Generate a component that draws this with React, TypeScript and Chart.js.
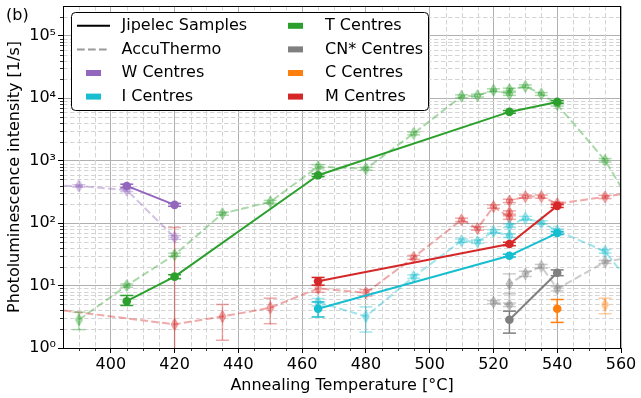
import React, { useEffect, useRef } from 'react';
import { Chart, registerables } from 'chart.js';

Chart.register(...registerables);

const FONT_FAMILY = "'DejaVu Sans', 'Liberation Sans', sans-serif";
const FONT_SIZE = 16;

const xMin = 385;
const xMax = 560;
const yMin = 1;
const yMax = 3e5;
const xTicks = [400, 420, 440, 460, 480, 500, 520, 540, 560];
const xTickLabels = ['400', '420', '440', '460', '480', '500', '520', '540', '560'];
const yTicks = [1, 10, 100, 1000, 10000, 100000];
const yTickLabels = ['10⁰', '10¹', '10²', '10³', '10⁴', '10⁵'];

// ---- W Centres ----
const wJipTemps = [405, 420];
const wJipVals = [394, 196];
const wJipLo = [370, 186];
const wJipHi = [420, 207];
const wAccTemps = [375, 390, 405, 420];
const wAccVals = [398, 394, 337, 59];
const wAccLo = [380, 376, 320, 55];
const wAccHi = [416, 412, 355, 63];

// ---- T Centres ----
const tJipTemps = [405, 420, 465, 525, 540];
const tJipVals = [5.62, 13.9, 584, 6040, 8730];
const tJipLo = [4.8, 12.9, 555, 5750, 8300];
const tJipHi = [6.93, 14.9, 615, 6350, 9200];
const tAccTemps = [390, 405, 420, 435, 450, 465, 480, 495, 510, 515, 520, 525, 525, 530, 535, 540, 555, 570];
const tAccVals = [2.84, 10.0, 31.2, 142, 219, 801, 744, 2733, 10760, 11030, 13400, 11700, 13750, 15500, 11700, 7930, 1013, 53.5];
const tAccLo = [1.97, 9.4, 29.5, 134, 207, 740, 705, 2590, 10200, 10450, 12700, 11100, 13000, 14700, 11100, 7500, 950, 53.5];
const tAccHi = [3.75, 10.6, 33, 150, 231, 865, 785, 2880, 11350, 11650, 14150, 12350, 14500, 16350, 12350, 8400, 1080, 53.5];

// ---- I Centres ----
const iJipTemps = [465, 525, 540];
const iJipVals = [4.25, 30.1, 69.3];
const iJipLo = [3.14, 28.6, 65.5];
const iJipHi = [5.47, 31.8, 73.5];
const iAccTemps = [465, 480, 495, 510, 515, 520, 525, 525, 530, 535, 540, 555, 570];
const iAccVals = [5.42, 3.2, 13.9, 52.3, 50.4, 73.6, 62.8, 90.8, 120, 102, 75.5, 35.3, 3.77];
const iAccLo = [4.7, 1.8, 13.0, 49, 47.3, 69, 59, 85, 112, 96, 71, 33, 3.77];
const iAccHi = [6.2, 4.55, 14.9, 55.8, 53.7, 78.5, 67, 97, 128, 109, 80.5, 37.7, 3.77];

// ---- CN* Centres ----
const cnJipTemps = [525, 540];
const cnJipVals = [2.84, 16.0];
const cnJipLo = [1.73, 14.4];
const cnJipHi = [3.89, 17.8];
const cnAccTemps = [520, 525, 525, 530, 535, 540, 555, 570];
const cnAccVals = [5.42, 4.92, 10.6, 15.4, 20.3, 8.87, 23.9, 33.3];
const cnAccLo = [5.1, 4.6, 7.38, 14.0, 19.0, 8.2, 22.6, 33.3];
const cnAccHi = [5.75, 5.25, 15.4, 17.0, 21.8, 9.6, 25.3, 33.3];

// ---- C Centres ----
const cJipTemps = [540];
const cJipVals = [4.25];
const cJipLo = [2.57];
const cJipHi = [5.98];
const cAccTemps = [555];
const cAccVals = [4.92];
const cAccLo = [3.54];
const cAccHi = [6.28];

// ---- M Centres ----
const mJipTemps = [465, 525, 540];
const mJipVals = [11.7, 46.3, 189];
const mJipLo = [10.1, 43.5, 178];
const mJipHi = [13.5, 49.3, 201];
const mAccTemps = [375, 420, 435, 450, 465, 480, 495, 510, 515, 520, 525, 525, 525, 530, 535, 540, 555, 570];
const mAccVals = [4.63, 2.39, 3.2, 4.41, 9.0, 7.65, 28.3, 113, 82, 184, 123, 148, 227, 266, 266, 205, 263, 354];
const mAccLo = [4.63, 0.5, 1.33, 2.45, 7.8, 6.8, 26.3, 106, 77, 173, 115, 139, 213, 250, 250, 193, 247, 354];
const mAccHi = [4.63, 85, 4.98, 6.28, 10.2, 8.6, 30.4, 120, 87, 196, 131, 157, 241, 282, 282, 217, 279, 354];

const COLORS = {
  W: '#9467bd',
  I: '#17becf',
  T: '#2ca02c',
  CN: '#7f7f7f',
  C: '#ff7f0e',
  M: '#d62728',
};
const ACC_ALPHA = 0.4;

const legendCol1 = ['Jipelec Samples', 'AccuThermo', 'W Centres', 'I Centres'];
const legendCol2 = ['T Centres', 'CN* Centres', 'C Centres', 'M Centres'];

type Series = {
  temps: number[];
  vals: number[];
  lo: number[];
  hi: number[];
  color: string;
  accu: boolean;
};

function rgba(hex: string, a: number) {
  const n = parseInt(hex.slice(1), 16);
  return `rgba(${(n >> 16) & 255},${(n >> 8) & 255},${n & 255},${a})`;
}

function makeDiamond(color: string) {
  const w = 9;
  const h = 14;
  const c = document.createElement('canvas');
  c.width = w;
  c.height = h;
  const g = c.getContext('2d')!;
  g.fillStyle = color;
  g.strokeStyle = color;
  g.lineWidth = 1;
  g.beginPath();
  g.moveTo(w / 2, 1);
  g.lineTo(w - 1, h / 2);
  g.lineTo(w / 2, h - 1);
  g.lineTo(1, h / 2);
  g.closePath();
  g.fill();
  g.stroke();
  return c;
}

export default function App() {
  const ref = useRef<HTMLCanvasElement>(null);

  useEffect(() => {
    const canvas = ref.current!;
    const series: Series[] = [
      { temps: tJipTemps, vals: tJipVals, lo: tJipLo, hi: tJipHi, color: COLORS.T, accu: false },
      { temps: mJipTemps, vals: mJipVals, lo: mJipLo, hi: mJipHi, color: COLORS.M, accu: false },
      { temps: iJipTemps, vals: iJipVals, lo: iJipLo, hi: iJipHi, color: COLORS.I, accu: false },
      { temps: cnJipTemps, vals: cnJipVals, lo: cnJipLo, hi: cnJipHi, color: COLORS.CN, accu: false },
      { temps: cJipTemps, vals: cJipVals, lo: cJipLo, hi: cJipHi, color: COLORS.C, accu: false },
      { temps: wJipTemps, vals: wJipVals, lo: wJipLo, hi: wJipHi, color: COLORS.W, accu: false },
      { temps: wAccTemps, vals: wAccVals, lo: wAccLo, hi: wAccHi, color: COLORS.W, accu: true },
      { temps: tAccTemps, vals: tAccVals, lo: tAccLo, hi: tAccHi, color: COLORS.T, accu: true },
      { temps: iAccTemps, vals: iAccVals, lo: iAccLo, hi: iAccHi, color: COLORS.I, accu: true },
      { temps: cnAccTemps, vals: cnAccVals, lo: cnAccLo, hi: cnAccHi, color: COLORS.CN, accu: true },
      { temps: cAccTemps, vals: cAccVals, lo: cAccLo, hi: cAccHi, color: COLORS.C, accu: true },
      { temps: mAccTemps, vals: mAccVals, lo: mAccLo, hi: mAccHi, color: COLORS.M, accu: true },
    ];

    const datasets = series.map((s) => {
      const col = s.accu ? rgba(s.color, ACC_ALPHA) : s.color;
      return {
        data: s.temps.map((t, i) => ({ x: t, y: s.vals[i] })),
        borderColor: col,
        backgroundColor: col,
        borderWidth: 2,
        borderDash: s.accu ? [7.7, 3.3] : [],
        borderJoinStyle: 'round' as const,
        borderCapStyle: 'butt' as const,
        pointStyle: s.accu ? makeDiamond(col) : 'circle',
        pointRadius: s.accu ? 6 : 4.3,
        pointHoverRadius: s.accu ? 6 : 4.3,
        pointBorderWidth: 0,
        pointBackgroundColor: col,
        pointBorderColor: col,
        showLine: s.temps.length > 1,
        tension: 0,
      };
    });

    const xMinor: number[] = [];
    for (let v = xMin + 5; v < xMax; v += 5) if (v % 20 !== 0) xMinor.push(v);
    const yMinor: number[] = [];
    for (let d = 1; d < yMax; d *= 10) {
      for (let m = 2; m <= 9; m++) if (d * m < yMax) yMinor.push(d * m);
    }

    const font = { family: FONT_FAMILY, size: FONT_SIZE };

    const mplPlugin = {
      id: 'mpl',
      beforeDatasetsDraw(chart: any) {
        const { ctx, chartArea: a, scales } = chart;
        const x = scales.x;
        const y = scales.y;
        ctx.save();
        ctx.strokeStyle = '#d4d4d4';
        ctx.lineWidth = 1;
        ctx.setLineDash([4.5, 2.5]);
        ctx.beginPath();
        for (const v of xMinor) {
          const px = Math.round(x.getPixelForValue(v)) + 0.5;
          ctx.moveTo(px, a.top);
          ctx.lineTo(px, a.bottom);
        }
        for (const v of yMinor) {
          const py = Math.round(y.getPixelForValue(v)) + 0.5;
          ctx.moveTo(a.left, py);
          ctx.lineTo(a.right, py);
        }
        ctx.stroke();
        ctx.restore();
      },
      beforeDatasetDraw(chart: any, args: any) {
        const s = series[args.index];
        if (!s) return;
        const { ctx, chartArea: a, scales } = chart;
        const x = scales.x;
        const y = scales.y;
        const col = s.accu ? rgba(s.color, ACC_ALPHA) : s.color;
        ctx.save();
        ctx.beginPath();
        ctx.rect(a.left, a.top, a.right - a.left, a.bottom - a.top);
        ctx.clip();
        ctx.strokeStyle = col;
        ctx.lineWidth = 1.5;
        ctx.setLineDash([]);
        const cap = 6.5;
        for (let i = 0; i < s.temps.length; i++) {
          const lo = s.lo[i];
          const hi = s.hi[i];
          if (lo === hi) continue;
          const px = x.getPixelForValue(s.temps[i]);
          const pl = y.getPixelForValue(lo);
          const ph = y.getPixelForValue(hi);
          ctx.beginPath();
          ctx.moveTo(px, pl);
          ctx.lineTo(px, ph);
          ctx.stroke();
          ctx.beginPath();
          ctx.moveTo(px - cap, pl);
          ctx.lineTo(px + cap, pl);
          ctx.stroke();
          ctx.beginPath();
          ctx.moveTo(px - cap, ph);
          ctx.lineTo(px + cap, ph);
          ctx.stroke();
        }
        ctx.restore();
      },
      afterDatasetsDraw(chart: any) {
        const { ctx, chartArea: a, scales } = chart;
        const x = scales.x;
        const y = scales.y;
        ctx.save();
        ctx.strokeStyle = '#000';
        ctx.lineWidth = 0.8;
        ctx.beginPath();
        for (const v of xMinor) {
          const px = Math.round(x.getPixelForValue(v)) + 0.5;
          ctx.moveTo(px, a.bottom);
          ctx.lineTo(px, a.bottom + 3);
        }
        for (const v of yMinor) {
          const py = Math.round(y.getPixelForValue(v)) + 0.5;
          ctx.moveTo(a.left, py);
          ctx.lineTo(a.left - 3, py);
        }
        ctx.stroke();
        ctx.lineWidth = 1;
        const l = Math.round(a.left) + 0.5;
        const t = Math.round(a.top) + 0.5;
        const r = Math.round(a.right) - 0.5;
        const b = Math.round(a.bottom) + 0.5;
        ctx.strokeRect(l, t, r - l, b - t);
        ctx.restore();
      },
      afterDraw(chart: any) {
        const ctx = chart.ctx as CanvasRenderingContext2D;
        ctx.save();
        ctx.fillStyle = '#000';
        ctx.textBaseline = 'middle';
        ctx.textAlign = 'left';
        ctx.font = `${FONT_SIZE}px ${FONT_FAMILY}`;
        ctx.fillText('(b)', 6, 15.5);

        // legend box
        const bx = 71.5, by = 12.5, bw = 357, bh = 98, rr = 4;
        ctx.beginPath();
        ctx.moveTo(bx + rr, by);
        ctx.lineTo(bx + bw - rr, by);
        ctx.arcTo(bx + bw, by, bx + bw, by + rr, rr);
        ctx.lineTo(bx + bw, by + bh - rr);
        ctx.arcTo(bx + bw, by + bh, bx + bw - rr, by + bh, rr);
        ctx.lineTo(bx + rr, by + bh);
        ctx.arcTo(bx, by + bh, bx, by + bh - rr, rr);
        ctx.lineTo(bx, by + rr);
        ctx.arcTo(bx, by, bx + rr, by, rr);
        ctx.closePath();
        ctx.fillStyle = '#fff';
        ctx.fill();
        ctx.strokeStyle = '#000';
        ctx.lineWidth = 1;
        ctx.stroke();

        const rows = [25.8, 49.4, 73.0, 96.6];
        ctx.font = `${FONT_SIZE}px ${FONT_FAMILY}`;
        ctx.fillStyle = '#000';
        ctx.lineWidth = 2;
        ctx.strokeStyle = '#000';
        ctx.setLineDash([]);
        ctx.beginPath();
        ctx.moveTo(77, rows[0]);
        ctx.lineTo(110, rows[0]);
        ctx.stroke();
        ctx.strokeStyle = '#9a9a9a';
        ctx.setLineDash([7.7, 3.3]);
        ctx.beginPath();
        ctx.moveTo(77, rows[1]);
        ctx.lineTo(110, rows[1]);
        ctx.stroke();
        ctx.setLineDash([]);
        const patches1 = [null, null, COLORS.W, COLORS.I];
        const patches2 = [COLORS.T, COLORS.CN, COLORS.C, COLORS.M];
        for (let i = 0; i < 4; i++) {
          const p1 = patches1[i];
          if (p1) {
            ctx.fillStyle = p1;
            ctx.fillRect(86, rows[i] - 3, 15, 6);
          }
          ctx.fillStyle = patches2[i];
          ctx.fillRect(288, rows[i] - 3, 15, 6);
          ctx.fillStyle = '#000';
          ctx.fillText(legendCol1[i], 121.5, rows[i]);
          ctx.fillText(legendCol2[i], 325, rows[i]);
        }
        ctx.restore();
      },
    };

    const chart = new Chart(canvas, {
      type: 'line',
      data: { datasets: datasets as any },
      options: {
        animation: false,
        responsive: false,
        devicePixelRatio: 1,
        events: [],
        layout: { padding: { left: 0, right: 20, top: 4, bottom: 0 } },
        plugins: { legend: { display: false }, tooltip: { enabled: false } },
        scales: {
          x: {
            type: 'linear',
            min: xMin,
            max: xMax,
            position: 'bottom',
            afterBuildTicks: (s: any) => {
              s.ticks = xTicks.map((v) => ({ value: v }));
            },
            afterFit: (s: any) => {
              s.height = 50;
              s.paddingLeft = 0;
              s.paddingRight = 0;
            },
            ticks: {
              font,
              color: '#000',
              padding: 2,
              maxRotation: 0,
              autoSkip: false,
              callback: (_v: any, i: number) => xTickLabels[i],
            },
            grid: { color: '#b0b0b0', lineWidth: 1, tickLength: 5, tickColor: '#000', tickWidth: 1 },
            border: { display: false },
            title: {
              display: true,
              text: 'Annealing Temperature [°C]',
              font,
              color: '#000',
              padding: { top: 0, bottom: 2.4 },
            },
          },
          y: {
            type: 'logarithmic',
            min: yMin,
            max: yMax,
            position: 'left',
            afterBuildTicks: (s: any) => {
              s.ticks = yTicks.map((v) => ({ value: v, major: true }));
            },
            afterFit: (s: any) => {
              s.width = 63;
              s.paddingTop = 0;
              s.paddingBottom = 0;
            },
            ticks: {
              font,
              color: '#000',
              padding: 2,
              autoSkip: false,
              callback: (_v: any, i: number) => yTickLabels[i],
            },
            grid: { color: '#b0b0b0', lineWidth: 1, tickLength: 5, tickColor: '#000', tickWidth: 1 },
            border: { display: false },
            title: {
              display: true,
              text: 'Photoluminescence intensity [1/s]',
              font,
              color: '#000',
              padding: { top: 5.4, bottom: 0 },
            },
          },
        },
      },
      plugins: [mplPlugin],
    });

    return () => chart.destroy();
  }, []);

  return (
    <div style={{ position: 'fixed', left: 0, top: 0, width: 641, height: 398, background: '#fff' }}>
      <canvas ref={ref} width={641} height={398} style={{ display: 'block', width: 641, height: 398 }} />
    </div>
  );
}
